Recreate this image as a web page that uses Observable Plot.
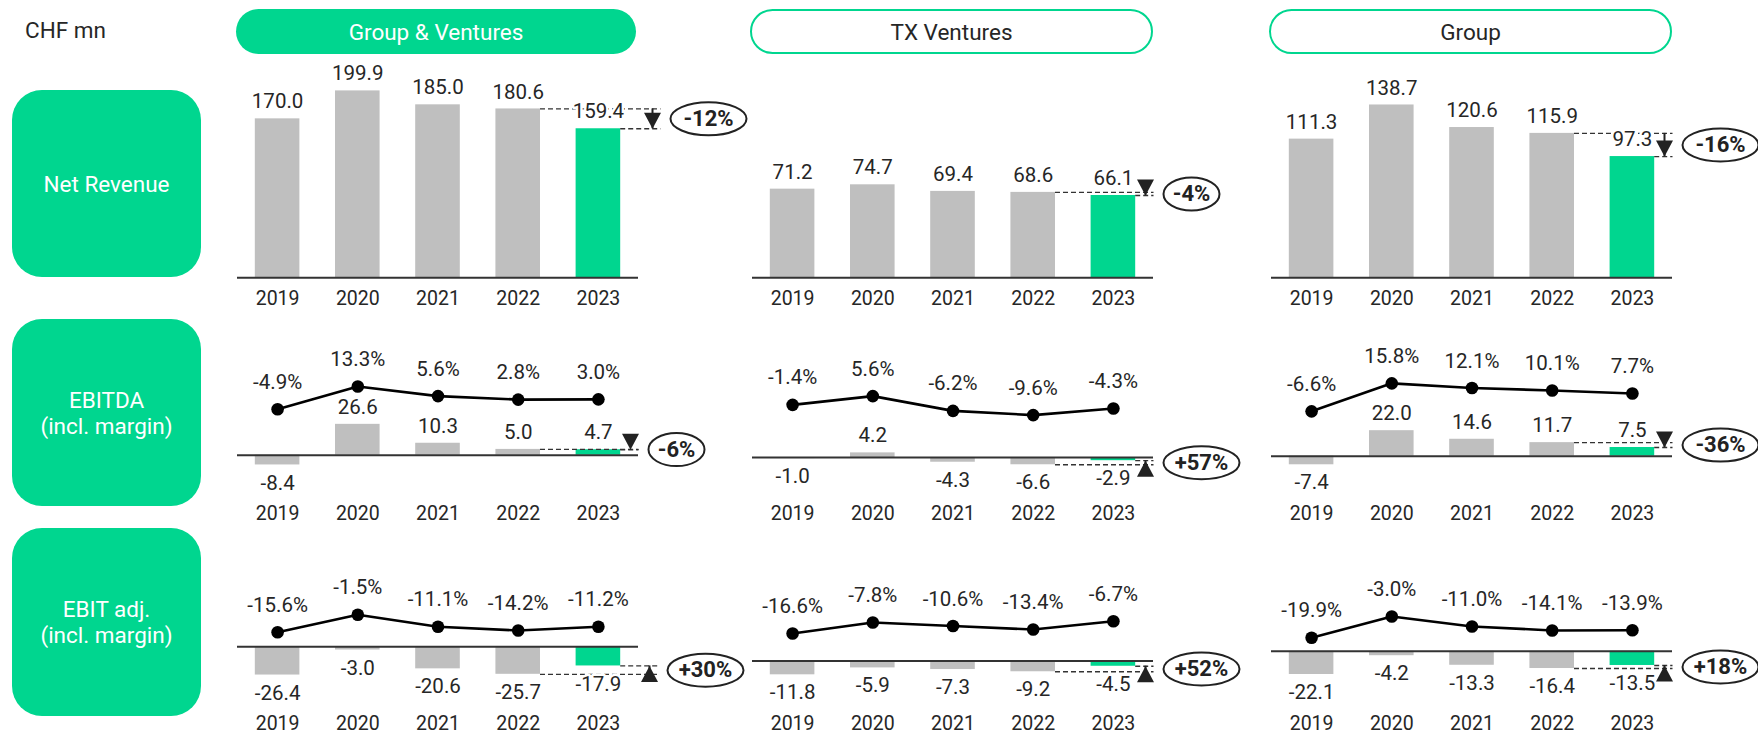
<!DOCTYPE html>
<html><head><meta charset="utf-8">
<script src="https://cdn.jsdelivr.net/npm/d3@7"></script>
<script src="https://cdn.jsdelivr.net/npm/@observablehq/plot@0.6"></script>
<style>
body{margin:0;background:#fff;font-family:Roboto,"Noto Sans",sans-serif;color:#262626;}
#root{position:relative;width:1758px;height:736px;overflow:hidden;background:#fff;}
.abs{position:absolute;box-sizing:border-box;}
.pill{display:flex;align-items:center;justify-content:center;font-size:22.5px;border-radius:23px;}
.rowlab{display:flex;align-items:center;justify-content:center;text-align:center;background:#00D68F;color:#fff;font-size:22.5px;line-height:26px;border-radius:30px;}
</style></head>
<body><div id="root"></div>
<script>
// ---------- data ----------
const years = [2019, 2020, 2021, 2022, 2023];
const entities = ["Group & Ventures", "TX Ventures", "Group"];
const metricLabels = ["Net Revenue", "EBITDA<br>(incl. margin)", "EBIT adj.<br>(incl. margin)"];
const unitLabel = "CHF mn";

const revGV = [170.0, 199.9, 185.0, 180.6, 159.4];
const revTX = [71.2, 74.7, 69.4, 68.6, 66.1];
const revGroup = [111.3, 138.7, 120.6, 115.9, 97.3];

const ebitdaGV = [-8.4, 26.6, 10.3, 5.0, 4.7];
const ebitdaTX = [-1.0, 4.2, -4.3, -6.6, -2.9];
const ebitdaGroup = [-7.4, 22.0, 14.6, 11.7, 7.5];
const ebitdaMarginGV = [-4.9, 13.3, 5.6, 2.8, 3.0];
const ebitdaMarginTX = [-1.4, 5.6, -6.2, -9.6, -4.3];
const ebitdaMarginGroup = [-6.6, 15.8, 12.1, 10.1, 7.7];

const ebitGV = [-26.4, -3.0, -20.6, -25.7, -17.9];
const ebitTX = [-11.8, -5.9, -7.3, -9.2, -4.5];
const ebitGroup = [-22.1, -4.2, -13.3, -16.4, -13.5];
const ebitMarginGV = [-15.6, -1.5, -11.1, -14.2, -11.2];
const ebitMarginTX = [-16.6, -7.8, -10.6, -13.4, -6.7];
const ebitMarginGroup = [-19.9, -3.0, -11.0, -14.1, -13.9];

const revChange = ["-12%", "-4%", "-16%"];
const ebitdaChange = ["-6%", "+57%", "-36%"];
const ebitChange = ["+30%", "+52%", "+18%"];

// ---------- layout / style ----------
const GREEN = "#00D68F", GRAY = "#BFBFBF", INK = "#262626", DARK = "#222";
const FONT = "Roboto, 'Noto Sans', sans-serif";
const colAxisLeft = [237, 752, 1271];
const AXIS_W = 401, UNIT = AXIS_W / 5, HW = 0.278;
const PAD_L = 20, PAD_R = 125, SVG_W = PAD_L + AXIS_W + PAD_R;
const LINE_K = 1.25;
const rowGeom = [
  {top: 60, h: 255, base: [277.3, 277.3, 277.3], k: [0.935, 1.245, 1.246], yearY: 298},
  {top: 315, h: 215, base: [454.7, 457, 455.7], k: [1.16, 1.1, 1.16], yearY: 513.3, zero: 402.6},
  {top: 530, h: 206, base: [646.3, 660.5, 650.8], k: [1.07, 1.17, 1.05], yearY: 723.5, zero: 612.3}
];
const arrowShift = [[14, -8, -8], [-8, -8, -8], [11, -8, -8]];
const rowsData = [
  {values: [revGV, revTX, revGroup], change: revChange},
  {values: [ebitdaGV, ebitdaTX, ebitdaGroup], margins: [ebitdaMarginGV, ebitdaMarginTX, ebitdaMarginGroup], change: ebitdaChange},
  {values: [ebitGV, ebitTX, ebitGroup], margins: [ebitMarginGV, ebitMarginTX, ebitMarginGroup], change: ebitChange}
];

const root = document.getElementById("root");
function div(cls, css, html) {
  const d = document.createElement("div");
  d.className = "abs " + cls;
  Object.assign(d.style, css);
  d.innerHTML = html;
  root.appendChild(d);
  return d;
}

// header texts
div("", {left: "25px", top: "15px", fontSize: "22.5px", lineHeight: "30px"}, unitLabel);
const pillX = [236, 750, 1269], pillW = [400, 403, 403];
entities.forEach((e, i) => {
  const css = {left: pillX[i] + "px", top: "9px", width: pillW[i] + "px", height: "45px"};
  if (i === 0) Object.assign(css, {background: GREEN, color: "#fff"});
  else Object.assign(css, {border: "2px solid " + GREEN, color: INK, background: "#fff"});
  div("pill", css, e.replace("&", "&amp;"));
});
const boxTop = [90, 319, 528], boxH = [187, 187, 188];
metricLabels.forEach((m, i) => {
  div("rowlab", {left: "12px", top: boxTop[i] + "px", width: "189px", height: boxH[i] + "px"}, m);
});

function ellipseSymbol(rx, ry) {
  const c = 0.5523, kx = rx * c, ky = ry * c;
  return {draw(ctx) {
    ctx.moveTo(rx, 0);
    ctx.bezierCurveTo(rx, ky, kx, ry, 0, ry);
    ctx.bezierCurveTo(-kx, ry, -rx, ky, -rx, 0);
    ctx.bezierCurveTo(-rx, -ky, -kx, -ry, 0, -ry);
    ctx.bezierCurveTo(kx, -ry, rx, -ky, rx, 0);
    ctx.closePath();
  }};
}
const triDown = {draw(ctx) { ctx.moveTo(-8.5, -16); ctx.lineTo(8.5, -16); ctx.lineTo(0, 0); ctx.closePath(); }};
const triUp = {draw(ctx) { ctx.moveTo(-8.5, 16); ctx.lineTo(8.5, 16); ctx.lineTo(0, 0); ctx.closePath(); }};

function place(svg, left, top, w, h) {
  Object.assign(svg.style, {position: "absolute", left: left + "px", top: top + "px", width: w + "px", height: h + "px", maxWidth: "none", overflow: "visible", background: "transparent"});
  root.appendChild(svg);
}

function panel(r, c) {
  const g = rowGeom[r];
  const vals = rowsData[r].values[c];
  const data = years.map((year, i) => ({year, i, value: vals[i]}));
  const b = g.base[c] - g.top, k = g.k[c];
  const v22 = vals[3], v23 = vals[4];
  const down = v23 < v22;
  const ax = 5 + arrowShift[r][c] / UNIT;
  const axR = ax + 8.5 / UNIT;
  const label = rowsData[r].change[c];
  const rx = label.length <= 3 ? 28 : 38;
  const mid = (v22 + v23) / 2;
  const cx = d => d.i + 0.5;
  const txt = {fontSize: 20.5, fill: INK, stroke: "white", strokeWidth: 5, fontFamily: FONT};
  const svg = Plot.plot({
    width: SVG_W, height: g.h, marginLeft: PAD_L, marginRight: PAD_R, marginTop: 0, marginBottom: 0,
    style: {fontFamily: FONT, background: "transparent", overflow: "visible"},
    x: {domain: [0, 5], axis: null},
    y: {domain: [0, 100], range: [b, b - 100 * k], axis: null},
    marks: [
      Plot.rect(data, {x1: d => d.i + 0.5 - HW, x2: d => d.i + 0.5 + HW, y1: 0, y2: "value", fill: d => d.year === 2023 ? GREEN : GRAY}),
      Plot.ruleY([0], {stroke: "#333", strokeWidth: 2}),
      Plot.ruleY([v22], {x1: 3.5 + HW, x2: axR, stroke: "#333", strokeWidth: 1.3, strokeDasharray: "5,3"}),
      Plot.ruleY([v23], {x1: 4.5 + HW, x2: axR, stroke: "#333", strokeWidth: 1.3, strokeDasharray: "5,3"}),
      Plot.text(data.filter(d => d.value >= 0), {x: cx, y: "value", text: d => d.value.toFixed(1), dy: -17, ...txt}),
      Plot.text(data.filter(d => d.value < 0), {x: cx, y: "value", text: d => d.value.toFixed(1), dy: 18, ...txt}),
      Plot.text(data, {x: cx, y: 0, text: d => String(d.year), dy: g.yearY - g.base[c], fontSize: 19.5, fill: INK, fontFamily: FONT}),
      Plot.ruleX([ax], {y1: v22, y2: v23, stroke: DARK, strokeWidth: 2}),
      Plot.dot([{x: ax, y: v23}], {x: "x", y: "y", symbol: down ? triDown : triUp, r: 7, fill: DARK, stroke: "none"}),
      Plot.dot([{x: ax, y: mid}], {x: "x", y: "y", symbol: ellipseSymbol(rx, 16.5), r: 5, fill: "white", stroke: DARK, strokeWidth: 2, dx: 8.5 + 9.5 + rx}),
      Plot.text([{x: ax, y: mid, t: label}], {x: "x", y: "y", text: "t", dx: 8.5 + 9.5 + rx, fontSize: 22, fontWeight: "bold", fill: DARK, fontFamily: FONT})
    ]
  });
  place(svg, colAxisLeft[c] - PAD_L, g.top, SVG_W, g.h);

  if (rowsData[r].margins) {
    const m = rowsData[r].margins[c];
    const mdata = years.map((year, i) => ({year, i, m: m[i]}));
    const z = g.zero - g.top;
    const lsvg = Plot.plot({
      width: SVG_W, height: g.h, marginLeft: PAD_L, marginRight: PAD_R, marginTop: 0, marginBottom: 0,
      style: {fontFamily: FONT, background: "transparent", overflow: "visible"},
      x: {domain: [0, 5], axis: null},
      y: {domain: [0, 10], range: [z, z - 10 * LINE_K], axis: null},
      marks: [
        Plot.line(mdata, {x: cx, y: "m", stroke: "#000", strokeWidth: 2.6}),
        Plot.dot(mdata, {x: cx, y: "m", r: 6.3, fill: "#000"}),
        Plot.text(mdata, {x: cx, y: "m", text: d => d.m.toFixed(1) + "%", dy: -27, fontSize: 20.5, fill: INK, fontFamily: FONT})
      ]
    });
    place(lsvg, colAxisLeft[c] - PAD_L, g.top, SVG_W, g.h);
  }
}

for (let r = 0; r < 3; r++) for (let c = 0; c < 3; c++) panel(r, c);
</script>
</body></html>
